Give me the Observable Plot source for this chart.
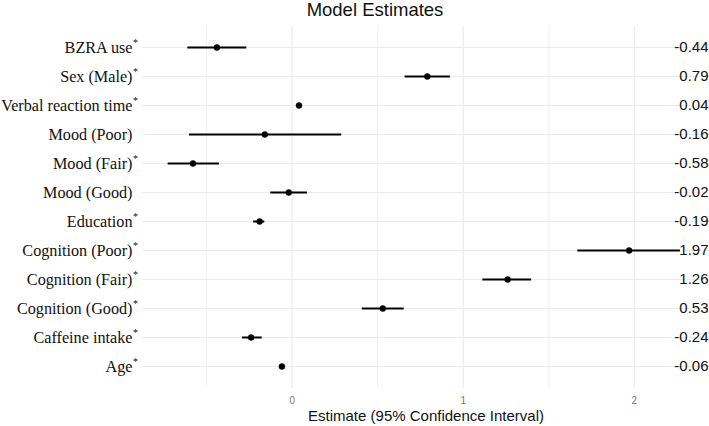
<!DOCTYPE html>
<html>
<head>
<meta charset="utf-8">
<script src="https://cdn.jsdelivr.net/npm/d3@7"></script>
<script src="https://cdn.jsdelivr.net/npm/@observablehq/plot@0.6"></script>
<style>
  html, body { margin: 0; padding: 0; background: white; }
  #wrap { width: 709px; }
  #title { width: 750px; height: 20px; line-height: 20px; text-align: center; font-family: "Liberation Sans", Arial, sans-serif; font-size: 18.5px; color: #111; white-space: nowrap; }
</style>
</head>
<body>
<div id="wrap">
  <div id="title">Model Estimates</div>
  <div id="chart"></div>
</div>
<script>
const labels = ["BZRA use","Sex (Male)","Verbal reaction time","Mood (Poor)","Mood (Fair)","Mood (Good)","Education","Cognition (Poor)","Cognition (Fair)","Cognition (Good)","Caffeine intake","Age"];
const significant = [true,true,true,false,true,false,true,true,true,true,true,true];
const estimates = [-0.44,0.79,0.04,-0.16,-0.58,-0.02,-0.19,1.97,1.26,0.53,-0.24,-0.06];
const lower = [-0.61,0.66,0.03,-0.60,-0.725,-0.125,-0.225,1.67,1.115,0.41,-0.29,-0.07];
const upper = [-0.265,0.925,0.055,0.29,-0.425,0.09,-0.16,2.27,1.40,0.655,-0.175,-0.05];
const estimateLabels = ["-0.44","0.79","0.04","-0.16","-0.58","-0.02","-0.19","1.97","1.26","0.53","-0.24","-0.06"];
const majorTicks = [0, 1, 2];
const minorTicks = [-0.5, 0.5, 1.5];
const xLabel = "Estimate (95% Confidence Interval)";

const rows = labels.map((label, i) => ({
  label, sig: significant[i], estimate: estimates[i], lower: lower[i], upper: upper[i], estLabel: estimateLabels[i]
}));

const grid = "#ebebeb";
const chart = Plot.plot({
  width: 709,
  height: 406,
  marginTop: 5.4,
  marginBottom: 38,
  marginLeft: 142,
  marginRight: 0,
  style: { fontFamily: "Liberation Sans, Arial, sans-serif", background: "white", color: "black" },
  x: { domain: [-0.875, 2.44] },
  y: { type: "point", domain: labels, padding: 0.6, axis: null },
  marks: [
    Plot.ruleX(minorTicks, { stroke: grid, strokeWidth: 0.7 }),
    Plot.ruleX(majorTicks, { stroke: grid, strokeWidth: 1.2 }),
    Plot.ruleY(labels, { y: d => d, stroke: grid, strokeWidth: 1.2 }),
    Plot.ruleY(rows, { y: "label", x1: "lower", x2: "upper", stroke: "black", strokeWidth: 2 }),
    Plot.dot(rows, { x: "estimate", y: "label", r: 3, fill: "black", stroke: "black", strokeWidth: 0.5 }),
    Plot.text(rows, { y: "label", text: "label", frameAnchor: "left", textAnchor: "end", dx: -10, fontFamily: "Liberation Serif, Times New Roman, serif", fontSize: 16.2, fill: "#111" }),
    Plot.text(rows.filter(d => d.sig), { y: "label", text: () => "*", frameAnchor: "left", textAnchor: "start", dx: -9.5, dy: -5, fontFamily: "Liberation Serif, serif", fontSize: 10, fill: "#111" }),
    Plot.text(rows, { y: "label", text: "estLabel", frameAnchor: "right", textAnchor: "end", dx: -1, fontFamily: "Liberation Sans, Arial, sans-serif", fontSize: 15, fill: "#111" }),
    Plot.axisX({ ticks: majorTicks, tickSize: 0, tickPadding: 8, fontSize: 10, color: "#777", label: null, tickFormat: d => String(d) }),
    Plot.text([xLabel], { text: d => d, frameAnchor: "bottom", lineAnchor: "middle", dy: 28, fontSize: 15, fill: "#111" })
  ]
});
document.getElementById("chart").appendChild(chart);
</script>
</body>
</html>
